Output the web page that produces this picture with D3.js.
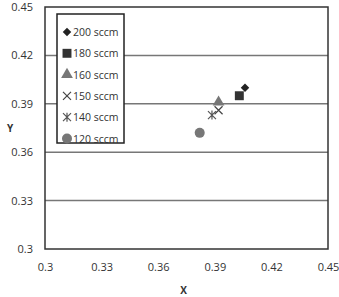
<!DOCTYPE html>
<html>
<head>
<meta charset="utf-8">
<script src="https://cdn.jsdelivr.net/npm/d3@7"></script>
<style>
  body { margin: 0; background: #fff; }
  text { font-family: "Open Sans", "Noto Sans", sans-serif; }
</style>
</head>
<body>
<div id="chart"></div>
<script>
// series, in legend order
var seriesNames = ["200 sccm", "180 sccm", "160 sccm", "150 sccm", "140 sccm", "120 sccm"];
var xValues = [0.406, 0.403, 0.392, 0.392, 0.3885, 0.382];
var yValues = [0.400, 0.395, 0.391, 0.386, 0.383, 0.372];
var xTicks = [0.3, 0.33, 0.36, 0.39, 0.42, 0.45];
var yTicks = [0.3, 0.33, 0.36, 0.39, 0.42, 0.45];

var margin = {top: 7, right: 11, bottom: 48, left: 45},
    width = 339 - margin.left - margin.right,
    height = 297 - margin.top - margin.bottom;

var svg = d3.select("#chart")
  .append("svg")
    .attr("width", 339)
    .attr("height", 297)
  .append("g")
    .attr("transform", "translate(" + margin.left + "," + margin.top + ")");

var x = d3.scaleLinear().domain([0.3, 0.45]).range([0, width]);
var y = d3.scaleLinear().domain([0.3, 0.45]).range([height, 0]);

// horizontal gridlines
svg.append("g")
  .selectAll("line")
  .data(yTicks.slice(1, -1))
  .enter().append("line")
    .attr("x1", 0).attr("x2", width)
    .attr("y1", function(d) { return y(d) }).attr("y2", function(d) { return y(d) })
    .attr("stroke", "#777")
    .attr("stroke-width", 1.5);

// axes (labels only)
var xAxis = svg.append("g")
  .attr("transform", "translate(0," + height + ")")
  .call(d3.axisBottom(x).tickValues(xTicks).tickSize(0).tickPadding(14).tickFormat(d3.format("")));
var yAxis = svg.append("g")
  .call(d3.axisLeft(y).tickValues(yTicks).tickSize(0).tickPadding(12).tickFormat(d3.format("")));
[xAxis, yAxis].forEach(function(a) {
  a.select(".domain").remove();
  a.selectAll("text").attr("font-size", 11).attr("fill", "#333");
});

// frame
svg.append("rect")
  .attr("width", width).attr("height", height)
  .attr("fill", "none")
  .attr("stroke", "#333")
  .attr("stroke-width", 1.5);

// axis titles
svg.append("text")
  .attr("x", width / 2 - 3).attr("y", height + 45)
  .attr("text-anchor", "middle")
  .attr("font-size", 10).attr("font-weight", "bold").attr("fill", "#333")
  .text("X");
svg.append("text")
  .attr("x", -35).attr("y", 125)
  .attr("text-anchor", "middle")
  .attr("font-size", 10).attr("font-weight", "bold").attr("fill", "#333")
  .text("Y");

// marker styles per series
var markerColors = ["#222", "#333", "#777", "#444", "#555", "#777"];
function drawMarker(g, i) {
  var c = markerColors[i];
  if (i == 0) {
    g.append("path").attr("d", d3.symbol(d3.symbolSquare, 36)()).attr("transform", "rotate(45)").attr("fill", c);
  } else if (i == 1) {
    g.append("path").attr("d", d3.symbol(d3.symbolSquare, 80)()).attr("fill", c);
  } else if (i == 2) {
    g.append("path").attr("d", d3.symbol(d3.symbolTriangle, 60)()).attr("fill", c);
  } else if (i == 3) {
    g.append("path").attr("d", "M-4,-4L4,4M-4,4L4,-4").attr("stroke", c).attr("stroke-width", 1.2).attr("fill", "none");
  } else if (i == 4) {
    g.append("path").attr("d", "M-4,-4L4,4M-4,4L4,-4M0,-4.5L0,4.5").attr("stroke", c).attr("stroke-width", 1.2).attr("fill", "none");
  } else {
    g.append("circle").attr("r", 5).attr("fill", c);
  }
}

// points
seriesNames.forEach(function(name, i) {
  var g = svg.append("g")
    .attr("transform", "translate(" + x(xValues[i]) + "," + y(yValues[i]) + ")");
  drawMarker(g, i);
});

// legend
var legend = svg.append("g").attr("transform", "translate(12,7)");
legend.append("rect")
  .attr("width", 67).attr("height", 129)
  .attr("fill", "#fff")
  .attr("stroke", "#222")
  .attr("stroke-width", 1.5);
seriesNames.forEach(function(name, i) {
  var row = legend.append("g").attr("transform", "translate(10," + (18 + i * 21.3) + ")");
  drawMarker(row, i);
  row.append("text")
    .attr("x", 6).attr("y", 4)
    .attr("font-size", 10.5).attr("fill", "#333")
    .text(name);
});
</script>
</body>
</html>
